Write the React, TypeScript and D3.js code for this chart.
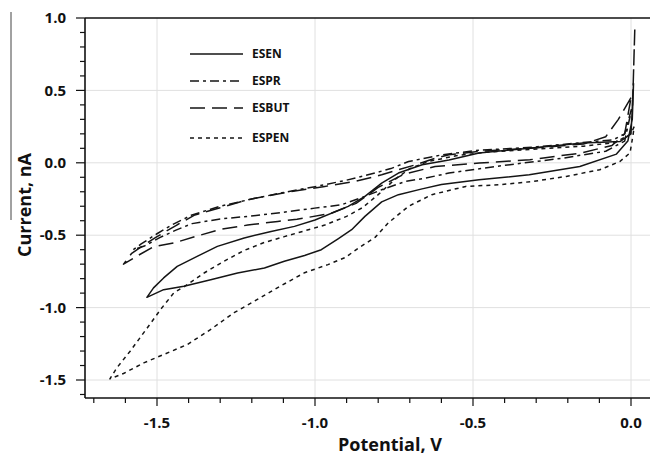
import React from 'react';
import * as d3 from 'd3';

type P = [number, number];

const xTickValues = [-1.5, -1.0, -0.5, 0.0];
const xTickLabels = ['-1.5', '-1.0', '-0.5', '0.0'];
const yTickValues = [1.0, 0.5, 0.0, -0.5, -1.0, -1.5];
const yTickLabels = ['1.0', '0.5', '0.0', '-0.5', '-1.0', '-1.5'];
const seriesNames = ['ESEN', 'ESPR', 'ESBUT', 'ESPEN'];

// ESEN (solid): upper branch from the spike to the tip, then lower branch back
const esen: P[] = [
  [0.008, 0.55], [0.0, 0.2], [-0.035, 0.147], [-0.152, 0.136], [-0.322, 0.101], [-0.481, 0.067],
  [-0.576, 0.02], [-0.661, -0.014], [-0.736, -0.071], [-0.789, -0.14], [-0.842, -0.232], [-0.895, -0.301],
  [-1.0, -0.395], [-1.065, -0.439], [-1.139, -0.474], [-1.224, -0.519], [-1.309, -0.577], [-1.373, -0.646],
  [-1.436, -0.715], [-1.479, -0.795], [-1.511, -0.864], [-1.532, -0.929],
  [-1.479, -0.876], [-1.415, -0.853], [-1.33, -0.807], [-1.245, -0.761], [-1.16, -0.726], [-1.097, -0.68],
  [-1.033, -0.64], [-0.98, -0.6], [-0.927, -0.525], [-0.884, -0.462], [-0.842, -0.37], [-0.789, -0.27],
  [-0.736, -0.22], [-0.661, -0.18], [-0.6, -0.15], [-0.481, -0.117], [-0.322, -0.083], [-0.162, -0.025],
  [-0.046, 0.06], [-0.01, 0.15], [0.004, 0.3], [0.008, 0.55],
];

// ESPR (dash-dot)
const espr: P[] = [
  [0.012, 0.92], [0.005, 0.4], [-0.02, 0.2], [-0.056, 0.159], [-0.152, 0.14], [-0.311, 0.108],
  [-0.491, 0.085], [-0.598, 0.055], [-0.704, 0.009], [-0.76, -0.04], [-0.81, -0.07], [-0.9, -0.12],
  [-1.0, -0.165], [-1.1, -0.205], [-1.2, -0.25], [-1.3, -0.3], [-1.389, -0.36], [-1.45, -0.425],
  [-1.5, -0.49], [-1.55, -0.56], [-1.575, -0.6],
  [-1.54, -0.575], [-1.49, -0.515], [-1.44, -0.465], [-1.389, -0.42], [-1.3, -0.388], [-1.213, -0.37],
  [-1.118, -0.347], [-1.001, -0.313], [-0.916, -0.29], [-0.842, -0.232], [-0.789, -0.186], [-0.714, -0.129],
  [-0.651, -0.106], [-0.576, -0.071], [-0.428, -0.025], [-0.216, 0.032], [-0.08, 0.08], [-0.02, 0.15],
  [0.005, 0.4], [0.012, 0.92],
];

// ESBUT (long dash)
const esbut: P[] = [
  [0.0, 0.45], [-0.04, 0.3], [-0.08, 0.18], [-0.15, 0.13], [-0.32, 0.1], [-0.48, 0.08], [-0.576, 0.055],
  [-0.619, 0.032], [-0.682, -0.014], [-0.736, -0.048], [-0.789, -0.083], [-0.874, -0.129], [-0.969, -0.163],
  [-1.075, -0.198], [-1.16, -0.232], [-1.213, -0.255], [-1.3, -0.31], [-1.38, -0.36], [-1.436, -0.428],
  [-1.5, -0.51], [-1.55, -0.58], [-1.58, -0.625], [-1.606, -0.7],
  [-1.56, -0.64], [-1.511, -0.58], [-1.447, -0.554], [-1.38, -0.51], [-1.3, -0.46], [-1.213, -0.43],
  [-1.118, -0.405], [-1.057, -0.39], [-0.95, -0.35], [-0.87, -0.28], [-0.8, -0.17], [-0.72, -0.08],
  [-0.62, -0.025], [-0.48, -0.002], [-0.32, 0.021], [-0.16, 0.067], [-0.06, 0.12], [-0.02, 0.2], [0.0, 0.45],
];

// ESPEN (dotted)
const espen: P[] = [
  [0.01, 0.25], [0.0, 0.2], [-0.05, 0.14], [-0.15, 0.115], [-0.3, 0.095], [-0.45, 0.075], [-0.55, 0.05],
  [-0.64, 0.01], [-0.7, -0.04], [-0.75, -0.12], [-0.8, -0.22], [-0.85, -0.31], [-0.9, -0.37], [-0.969, -0.43],
  [-1.033, -0.47], [-1.097, -0.51], [-1.16, -0.55], [-1.224, -0.605], [-1.288, -0.68], [-1.351, -0.761],
  [-1.404, -0.841], [-1.447, -0.899], [-1.489, -1.014], [-1.527, -1.129], [-1.585, -1.301], [-1.627, -1.416],
  [-1.649, -1.492],
  [-1.606, -1.455], [-1.542, -1.382], [-1.479, -1.324], [-1.404, -1.255], [-1.331, -1.152], [-1.256, -1.035],
  [-1.192, -0.956], [-1.118, -0.862], [-1.033, -0.759], [-0.959, -0.703], [-0.905, -0.655], [-0.863, -0.59],
  [-0.81, -0.515], [-0.768, -0.415], [-0.704, -0.3], [-0.63, -0.22], [-0.523, -0.163], [-0.417, -0.152],
  [-0.311, -0.129], [-0.205, -0.094], [-0.099, -0.048], [-0.035, 0.009], [-0.003, 0.069], [0.007, 0.2],
  [0.01, 0.25],
];

const seriesData = [esen, espr, esbut, espen];
const dashes = ['none', '9 4 3 4', '15 7', '4 4'];

const FONT = "'Open Sans', 'DejaVu Sans', sans-serif";

export default function App() {
  const W = 650, H = 458;
  const left = 85, top = 18, bottom = 398, right = 650;
  const x = d3.scaleLinear().domain([-1.5, 0]).range([157, 631]);
  const y = d3.scaleLinear().domain([-1.5, 1.0]).range([380, 18]);
  const line = d3.line<P>().x(d => x(d[0])).y(d => y(d[1]));

  const xMinor = d3.range(-17, 1).map(i => i / 10).filter(v => x(v) > left + 2);
  const yMinor = d3.range(-16, 11).map(i => i / 10).filter(v => y(v) < bottom - 1);
  const isMajor = (v: number) => Math.abs(v * 2 - Math.round(v * 2)) < 1e-6;

  const legendY = [54, 81, 108, 138];

  return (
    <svg width={W} height={H} style={{ position: 'absolute', left: 0, top: 0, background: '#fff' }}
      fontFamily={FONT}>
      <rect x={0} y={0} width={W} height={H} fill="#fff" />
      {/* gridlines */}
      {xTickValues.map(v => (
        <line key={'gx' + v} x1={x(v)} x2={x(v)} y1={top} y2={bottom} stroke="#e0e0e0" strokeWidth={1} />
      ))}
      {yTickValues.filter(v => v < 1).map(v => (
        <line key={'gy' + v} x1={left} x2={right} y1={y(v)} y2={y(v)} stroke="#e0e0e0" strokeWidth={1} />
      ))}
      {/* artifact vertical line at far left */}
      <line x1={11} x2={11} y1={12} y2={220} stroke="#444" strokeWidth={1} />

      {/* data */}
      {seriesData.map((s, i) => (
        <path key={'s' + i} d={line(s) || ''} fill="none" stroke="#151515" strokeWidth={1.5}
          strokeDasharray={dashes[i] === 'none' ? undefined : dashes[i]} strokeLinejoin="round" />
      ))}

      {/* frame */}
      <line x1={left} x2={right} y1={top} y2={top} stroke="#111" strokeWidth={1.6} />
      <line x1={left} x2={right} y1={bottom} y2={bottom} stroke="#111" strokeWidth={1.6} />
      <line x1={left} x2={left} y1={top} y2={bottom} stroke="#111" strokeWidth={1.6} />

      {/* x ticks */}
      {xMinor.map(v => (
        <line key={'xt' + v} x1={x(v)} x2={x(v)} y1={bottom} y2={bottom + (isMajor(v) ? 8 : 5)}
          stroke="#111" strokeWidth={1.2} />
      ))}
      {xTickValues.map((v, i) => (
        <text key={'xl' + v} x={x(v)} y={428} textAnchor="middle" fontSize={15} fontWeight={700} fill="#111">
          {xTickLabels[i]}
        </text>
      ))}
      {/* y ticks */}
      {yMinor.map(v => (
        <line key={'yt' + v} x1={left} x2={left - (isMajor(v) ? 9 : 5)} y1={y(v)} y2={y(v)}
          stroke="#111" strokeWidth={1.2} />
      ))}
      {yTickValues.map((v, i) => (
        <text key={'yl' + v} x={66} y={y(v)} dy="0.35em" textAnchor="end" fontSize={15} fontWeight={700} fill="#111">
          {yTickLabels[i]}
        </text>
      ))}

      {/* axis titles */}
      <text x={390} y={451} textAnchor="middle" fontSize={18} fontWeight={700} fill="#111">Potential, V</text>
      <text transform="translate(31,205) rotate(-90)" textAnchor="middle" fontSize={18} fontWeight={700} fill="#111">
        Current, nA
      </text>

      {/* legend */}
      {seriesNames.map((n, i) => (
        <g key={'lg' + n}>
          <line x1={190} x2={243} y1={legendY[i]} y2={legendY[i]} stroke="#151515" strokeWidth={1.5}
            strokeDasharray={dashes[i] === 'none' ? undefined : dashes[i]} />
          <text x={252} y={legendY[i]} dy="0.35em" fontSize={12} fontWeight={700} fill="#111">{n}</text>
        </g>
      ))}
    </svg>
  );
}
